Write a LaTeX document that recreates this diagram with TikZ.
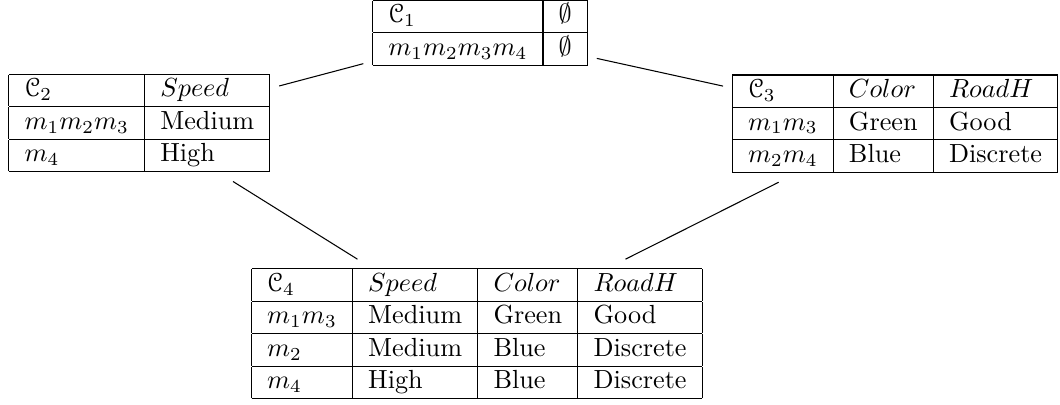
\documentclass[tikz,border=0pt]{standalone}
\usepackage{amsmath}
\usepackage{amssymb}
\usepackage{eucal}
\usepackage{tikz}
\usetikzlibrary{positioning}

\begin{document}
\begin{tikzpicture}[every node/.style={inner sep=0.3333em}]
  \useasboundingbox (0,0) rectangle (14.22,5.43);

  % C1
  \node (c1) at (6.44,4.99) {%
    \begin{tabular}{|l|l|}
      \hline
      $\mathcal{C}_1$ & $\emptyset$ \\ \hline
      $m_1m_2m_3m_4$ & $\emptyset$ \\ \hline
    \end{tabular}};

  % C2
  \node (c2) at (1.87,3.78) {%
    \begin{tabular}{|l|l|}
      \hline
      $\mathcal{C}_2$ & $Speed$ \\ \hline
      $m_1m_2m_3$ & Medium \\ \hline
      $m_4$ & High \\ \hline
    \end{tabular}};

  % C3
  \node[anchor=west] (c3) at (9.70,3.77) {%
    \begin{tabular}{|l|l|l|}
      \hline
      $\mathcal{C}_3$ & $Color$ & $RoadH$ \\ \hline
      $m_1m_3$ & Green & Good \\ \hline
      $m_2m_4$ & Blue & Discrete \\ \hline
    \end{tabular}};

  % C4
  \node[anchor=west] (c4) at (3.25,0.95) {%
    \begin{tabular}{|l|l|l|l|}
      \hline
      $\mathcal{C}_4$ & $Speed$ & $Color$ & $RoadH$ \\ \hline
      $m_1m_3$ & Medium & Green & Good \\ \hline
      $m_2$ & Medium & Blue & Discrete \\ \hline
      $m_4$ & High & Blue & Discrete \\ \hline
    \end{tabular}};

  % Connections
  \draw (c1) -- (c2);
  \draw (c1) -- (c3);
  \draw (c2) -- (c4);
  \draw (c3) -- (c4);
\end{tikzpicture}
\end{document}
